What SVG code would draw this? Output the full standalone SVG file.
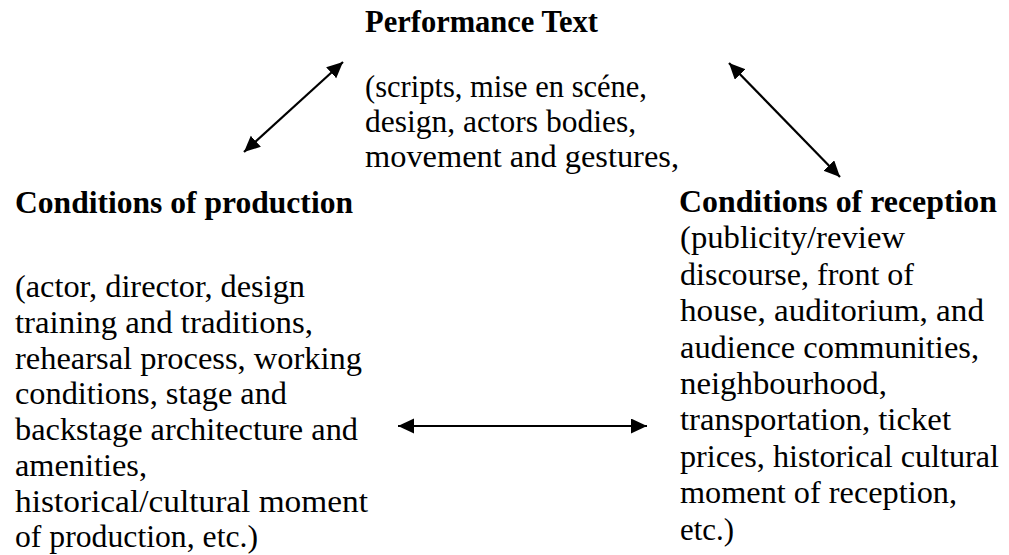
<svg xmlns="http://www.w3.org/2000/svg" width="1009" height="555" viewBox="0 0 1009 555">
<style>
  text { font-family: "Liberation Serif", "Times New Roman", serif; font-size: 31px; fill: #000; }
  .h { font-weight: bold; }
  .c { stroke: #000; stroke-width: 2.2; fill: none; marker-start: url(#ah); marker-end: url(#ah); }
</style>
<defs>
  <marker id="ah" markerUnits="userSpaceOnUse" markerWidth="17" markerHeight="16" refX="16" refY="7.5" orient="auto-start-reverse" viewBox="0 0 17 16">
    <path d="M0,0 L16,7.5 L0,15 z" fill="#000"/>
  </marker>
</defs>
<rect width="1009" height="555" fill="#fff"/>
<g id="performance-text">
  <text class="h" x="365" y="32" textLength="233" lengthAdjust="spacingAndGlyphs">Performance Text</text>
  <text x="365" y="97" textLength="282" lengthAdjust="spacingAndGlyphs">(scripts, mise en scéne,</text>
  <text x="365" y="132" textLength="271" lengthAdjust="spacingAndGlyphs">design, actors bodies,</text>
  <text x="365" y="167" textLength="314" lengthAdjust="spacingAndGlyphs">movement and gestures,</text>
</g>
<g id="conditions-of-production">
  <text class="h" x="15" y="213" textLength="338" lengthAdjust="spacingAndGlyphs">Conditions of production</text>
  <text x="15" y="297" textLength="290" lengthAdjust="spacingAndGlyphs">(actor, director, design</text>
  <text x="15" y="332.8" textLength="298" lengthAdjust="spacingAndGlyphs">training and traditions,</text>
  <text x="15" y="368.6" textLength="347" lengthAdjust="spacingAndGlyphs">rehearsal process, working</text>
  <text x="15" y="404.4" textLength="272" lengthAdjust="spacingAndGlyphs">conditions, stage and</text>
  <text x="15" y="440.2" textLength="343" lengthAdjust="spacingAndGlyphs">backstage architecture and</text>
  <text x="15" y="476" textLength="132" lengthAdjust="spacingAndGlyphs">amenities,</text>
  <text x="15" y="511.8" textLength="353" lengthAdjust="spacingAndGlyphs">historical/cultural moment</text>
  <text x="15" y="547" textLength="243" lengthAdjust="spacingAndGlyphs">of production, etc.)</text>
</g>
<g id="conditions-of-reception">
  <text class="h" x="679" y="212" textLength="318" lengthAdjust="spacingAndGlyphs">Conditions of reception</text>
  <text x="680" y="248.4" textLength="225" lengthAdjust="spacingAndGlyphs">(publicity/review</text>
  <text x="680" y="284.8" textLength="234" lengthAdjust="spacingAndGlyphs">discourse, front of</text>
  <text x="680" y="321.2" textLength="304" lengthAdjust="spacingAndGlyphs">house, auditorium, and</text>
  <text x="680" y="357.6" textLength="299" lengthAdjust="spacingAndGlyphs">audience communities,</text>
  <text x="680" y="394" textLength="207" lengthAdjust="spacingAndGlyphs">neighbourhood,</text>
  <text x="680" y="430.4" textLength="271" lengthAdjust="spacingAndGlyphs">transportation, ticket</text>
  <text x="680" y="466.8" textLength="319" lengthAdjust="spacingAndGlyphs">prices, historical cultural</text>
  <text x="680" y="503.2" textLength="277" lengthAdjust="spacingAndGlyphs">moment of reception,</text>
  <text x="680" y="539.6" textLength="54" lengthAdjust="spacingAndGlyphs">etc.)</text>
</g>
<g id="connectors">
  <line class="c" x1="244" y1="152" x2="343" y2="62"/>
  <line class="c" x1="729" y1="63" x2="840" y2="177"/>
  <line class="c" x1="398" y1="426" x2="647" y2="426"/>
</g>
</svg>
